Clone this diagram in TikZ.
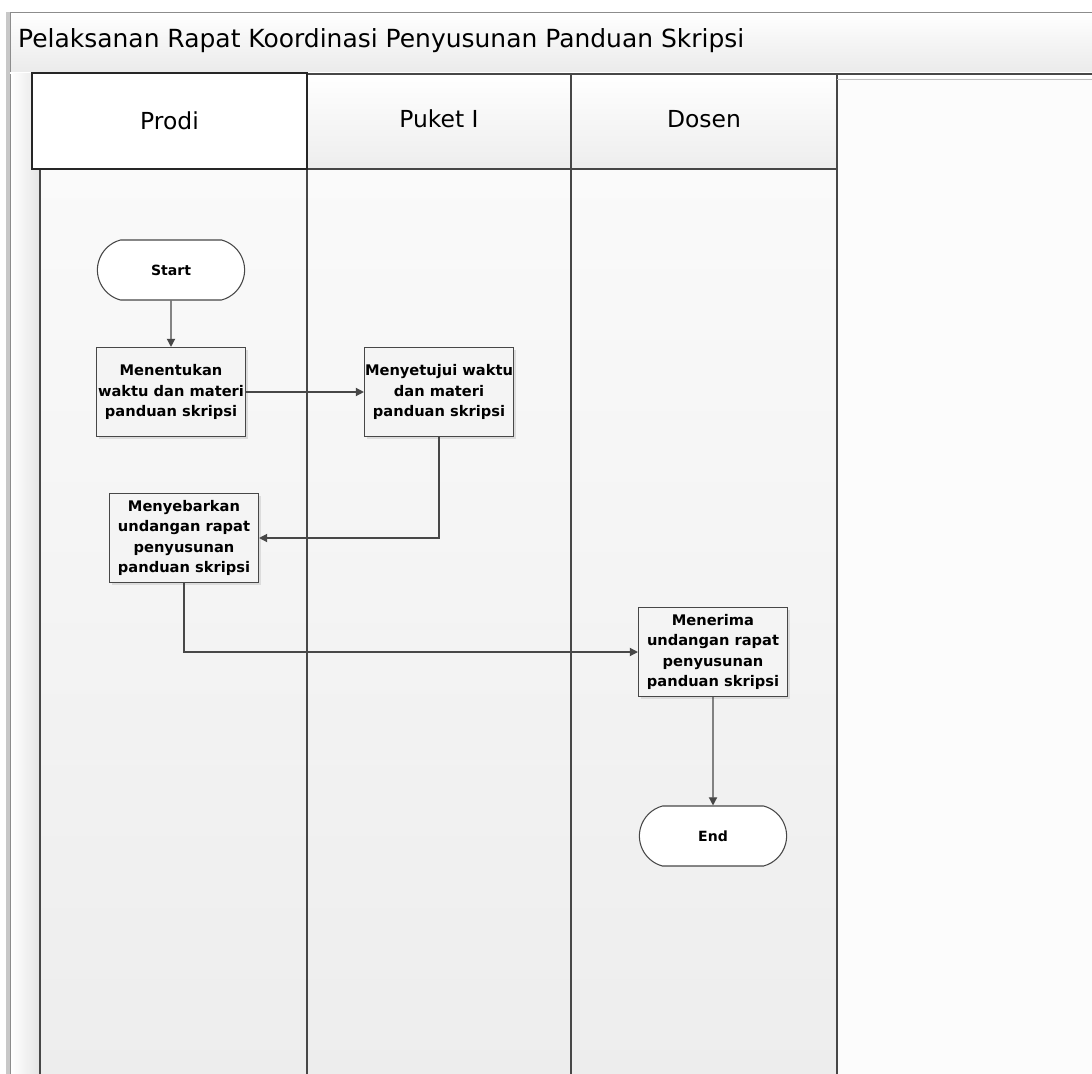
\documentclass[tikz,border=0pt]{standalone}
\usepackage{fontspec}
\setmainfont{DejaVu Sans}
\usetikzlibrary{shapes.misc,arrows.meta,shadows}
\definecolor{lanegrey}{HTML}{F0F0F0}
\definecolor{framegrey}{HTML}{C8C8C8}
\newcommand{\linecolor}{black!72}
\newcommand{\pxw}{149*0.03cm}

\begin{document}
\begin{tikzpicture}[x=0.03cm,y=-0.03cm,
  term/.style={rounded rectangle,draw=\linecolor,fill=white,line width=0.9pt,
    rounded rectangle arc length=150,
    minimum width=155*0.03cm,minimum height=60*0.03cm,font=\bfseries\fontsize{12}{14}\selectfont},
  proc/.style={rectangle,draw=\linecolor,fill=lanegrey!70,line width=0.9pt,
    minimum width=\pxw,minimum height=89*0.03cm,inner sep=0pt,align=center,
    font=\bfseries\fontsize{12.5}{17.5}\selectfont,
    drop shadow={shadow xshift=2pt,shadow yshift=-2pt,fill=black!20,opacity=0.6}},
  flow/.style={draw=\linecolor,line width=1.1pt,-{Triangle[length=7pt,width=7pt]}},
  head/.style={font=\fontsize{20}{24}\selectfont}]
\useasboundingbox (0,0) rectangle (1092,1074);
\fill[white] (0,0) rectangle (1092,1074);
%frame
\fill[framegrey] (6,12) rectangle (10,1074);
\shade[top color=white,bottom color=black!8] (10,12) rectangle (1092,72);
\draw[black!45,line width=0.8pt] (10,1074) -- (10,12) -- (1092,12);
\draw[white,line width=1pt] (10,73) -- (1092,73);
\node[font=\fontsize{21.3}{24}\selectfont,anchor=west] (title) at (14,41) {Pelaksanan Rapat Koordinasi Penyusunan Panduan Skripsi};
%left strip
\shade[left color=white,right color=black!10] (11,74) rectangle (39,1074);
%lanes
\shade[top color=black!2,bottom color=black!7] (40,169) rectangle (837,1074);
\shade[top color=white,bottom color=black!7] (307,74) rectangle (571,169);
\shade[top color=white,bottom color=black!7] (571,74) rectangle (837,169);
\fill[white!99!black] (837,78) rectangle (1092,1074);
\draw[\linecolor,line width=1pt] (40,169) -- (40,1074);
\draw[\linecolor,line width=1pt] (307,74) -- (307,1074);
\draw[\linecolor,line width=1pt] (571,74) -- (571,1074);
\draw[\linecolor,line width=1pt] (837,74) -- (837,1074);
\draw[\linecolor,line width=1pt] (307,74) -- (1092,74);
\draw[black!25,line width=0.8pt] (837,79) -- (1092,79);
\draw[\linecolor,line width=1pt] (307,169) -- (837,169);
\node[head,draw=black!85,fill=white,line width=1.1pt,minimum width=275*0.03cm,
  minimum height=96*0.03cm] (prodi) at (169.5,121) {Prodi};
\node[head] (puket) at (439,119) {Puket I};
\node[head] (dosen) at (704,119) {Dosen};
%steps
\node[term] (start) at (171,270) {Start};
\node[proc] (tentukan) at (171,392) {Menentukan\\waktu dan materi\\panduan skripsi};
\node[proc] (setujui) at (439,392) {Menyetujui waktu\\dan materi\\panduan skripsi};
\node[proc] (sebarkan) at (184,538) {Menyebarkan\\undangan rapat\\penyusunan\\panduan skripsi};
\node[proc] (terima) at (713,652) {Menerima\\undangan rapat\\penyusunan\\panduan skripsi};
\node[term] (end) at (713,836) {End};
%arrows
\draw[flow] (start) -- (tentukan);
\draw[flow] (tentukan) -- (setujui);
\draw[flow] (setujui.south) |- (sebarkan.east);
\draw[flow] (sebarkan.south) |- (terima.west);
\draw[flow] (terima) -- (end);
\end{tikzpicture}
\end{document}
